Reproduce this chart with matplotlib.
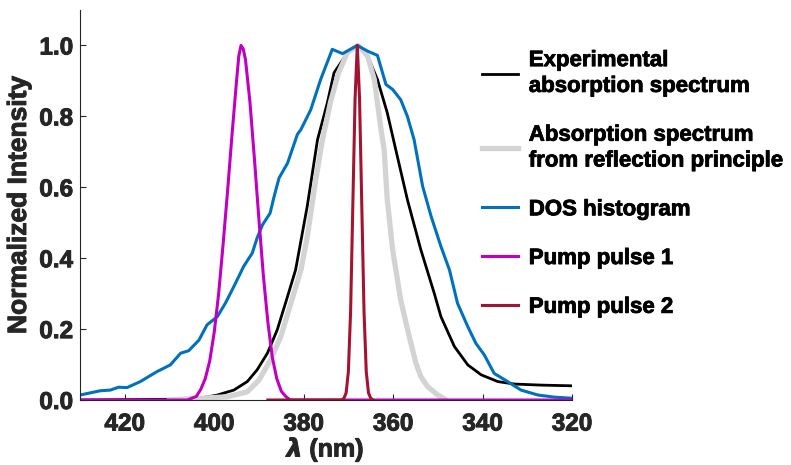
import matplotlib
matplotlib.use("Agg")
import matplotlib.pyplot as plt
import matplotlib.patheffects as pe

plt.rcParams['font.family'] = ['Liberation Sans', 'DejaVu Sans']
plt.rcParams['font.weight'] = 'bold'
plt.rcParams['mathtext.fontset'] = 'dejavusans'

# experimental absorption spectrum
exp_x = [430, 410, 403.1, 399.3, 395.6, 392.6, 390.4, 388.1, 385.9, 383.6, 381.8,
         379.2, 376.9, 374.7, 373.2, 370.2, 367.8, 365.7, 363.5, 361.3, 359.4,
         356.8, 353.8, 350.8, 349.3, 346.3, 343.3, 340.3, 336.6, 332.9, 326.9, 320]
exp_y = [0.0, 0.002, 0.005, 0.014, 0.028, 0.052, 0.085, 0.132, 0.198, 0.292, 0.367,
         0.546, 0.734, 0.838, 0.923, 0.979, 1.0, 0.97, 0.904, 0.81, 0.706,
         0.565, 0.424, 0.301, 0.235, 0.151, 0.099, 0.071, 0.052, 0.045, 0.042, 0.040]

# absorption spectrum from reflection principle
refl_x = [410, 403.1, 397.1, 392.6, 390.0, 387.4, 385.1, 383.3, 380.6, 379.2, 377.3,
          375.8, 374.0, 372.2, 370.2, 367.8, 365.7, 364.2, 362.7, 362.0, 361.3,
          360.1, 358.3, 356.4, 354.9, 353.8, 352.3, 350.0, 348.5]
refl_y = [0.0, 0.005, 0.009, 0.023, 0.056, 0.113, 0.179, 0.254, 0.367, 0.46, 0.62,
          0.734, 0.84, 0.923, 0.98, 1.0, 0.97, 0.904, 0.763, 0.706, 0.565,
          0.424, 0.282, 0.179, 0.104, 0.066, 0.038, 0.014, 0.003]

# DOS histogram
dos_x = [430, 425.5, 423.2, 421.4, 419.5, 416.5, 412.8, 409.8, 407.5, 405.7, 403.4,
         401.6, 399.3, 397.5, 395.6, 393.4, 391.5, 390.4, 389.2, 387.5, 386.6,
         385.5, 383.6, 381.4, 380.6, 378.4, 376.2, 373.6, 371.3, 368.0, 365.7,
         363.5, 361.6, 360.1, 358.3, 356.8, 355.3, 353.4, 351.5, 349.3, 347.4,
         345.6, 343.3, 341.5, 339.6, 337.4, 334.4, 331.4, 327.6, 323.9, 320]
dos_y = [0.014, 0.026, 0.028, 0.036, 0.035, 0.052, 0.080, 0.099, 0.132, 0.139, 0.169,
         0.212, 0.235, 0.273, 0.320, 0.377, 0.414, 0.457, 0.494, 0.527, 0.574,
         0.626, 0.668, 0.749, 0.763, 0.819, 0.904, 0.989, 0.977, 1.0, 0.984,
         0.972, 0.89, 0.876, 0.847, 0.80, 0.734, 0.603, 0.518, 0.433, 0.367,
         0.273, 0.207, 0.160, 0.127, 0.075, 0.052, 0.028, 0.014, 0.008, 0.005]

# pump pulse 1
p1_x = [430, 406, 404, 403, 402, 401, 400, 399, 398, 397, 396, 395, 394.5, 394,
        393.5, 393, 392, 391, 390, 389, 388, 387, 386, 385, 384, 383, 320]
p1_y = [0.0, 0.0, 0.01, 0.03, 0.06, 0.11, 0.19, 0.30, 0.44, 0.59, 0.75, 0.90, 0.97, 1.0,
        0.99, 0.96, 0.84, 0.68, 0.51, 0.35, 0.22, 0.12, 0.06, 0.025, 0.01, 0.0, 0.0]

# pump pulse 2
p2_x = [388, 371.5, 371, 370.5, 370, 369.5, 369, 368.5, 368, 367.5, 367, 366.5,
        366, 365.5, 365, 364.5]
p2_y = [0.0, 0.0, 0.005, 0.02, 0.08, 0.25, 0.55, 0.85, 1.0, 0.85, 0.55, 0.25,
        0.08, 0.02, 0.005, 0.0]

labels = ['Experimental\nabsorption spectrum',
          'Absorption spectrum\nfrom reflection principle',
          'DOS histogram', 'Pump pulse 1', 'Pump pulse 2']

fig = plt.figure(figsize=(7.91, 4.65), dpi=100)
ax = fig.add_axes([80 / 791, 1 - 400 / 465, 492 / 791, 390 / 465])

ax.plot(exp_x, exp_y, color='black', lw=2.0, label=labels[0])
ax.plot(refl_x, refl_y, color='#d3d3d3', lw=3.8, label=labels[1])
ax.plot(dos_x, dos_y, color='#0072bd', lw=2.2, label=labels[2])
ax.plot(p1_x, p1_y, color='#c000c0', lw=2.2, label=labels[3])
ax.plot(p2_x, p2_y, color='#a2142f', lw=2.2, label=labels[4])

ax.set_xlim(430, 320)
ax.set_ylim(0, 1.1)
ax.set_xticks([420, 400, 380, 360, 340, 320])
ax.set_yticks([0, 0.2, 0.4, 0.6, 0.8, 1.0])
ax.set_yticklabels(['0.0', '0.2', '0.4', '0.6', '0.8', '1.0'])
for s in ['top', 'right']:
    ax.spines[s].set_visible(False)
for s in ['left', 'bottom']:
    ax.spines[s].set_color('#262626')
    ax.spines[s].set_linewidth(0.8)
ax.tick_params(direction='in', length=4, width=0.8, colors='#262626', labelsize=17.5)
ax.tick_params(axis='x', pad=9)
ax.tick_params(axis='y', pad=5)

stroke = [pe.withStroke(linewidth=0.7, foreground='#262626')]
for t in ax.get_xticklabels() + ax.get_yticklabels():
    t.set_fontweight('bold')
    t.set_path_effects(stroke)

ax.set_ylabel('Normalized Intensity', fontsize=19, fontweight='bold', color='#262626',
              labelpad=6, path_effects=stroke)
ax.set_xlabel(r'$\lambda$ (nm)', fontsize=18, fontweight='bold', color='#262626',
              labelpad=0, path_effects=stroke)

leg = fig.legend(loc='upper left', bbox_to_anchor=(471 / 791, 1 - 39 / 465),
                 frameon=False, handlelength=1.6, handletextpad=0.5,
                 borderpad=0, labelspacing=1.25, prop={'weight': 'bold', 'size': 16})
for t in leg.get_texts():
    t.set_linespacing(1.3)
    t.set_path_effects([pe.withStroke(linewidth=0.6, foreground='black')])

fig.savefig('out.png', dpi=100)
